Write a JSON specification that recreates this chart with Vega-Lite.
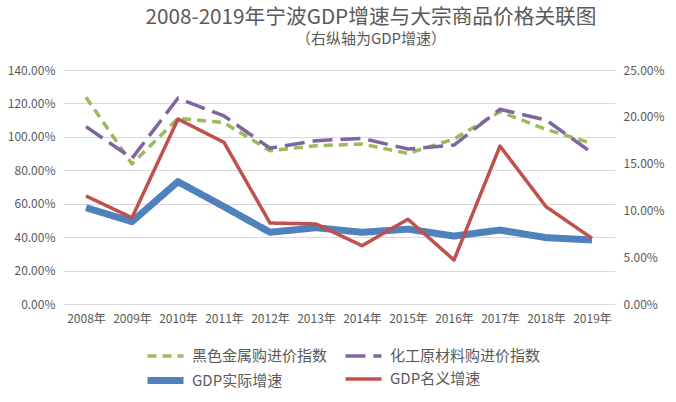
{
  "$schema": "https://vega.github.io/schema/vega-lite/v6.json",
  "width": 552,
  "height": 234,
  "autosize": "none",
  "padding": {"left": 63, "top": 70, "right": 61, "bottom": 98},
  "background": "white",
  "config": {
    "view": {"stroke": null},
    "font": "Noto Sans CJK SC",
    "axis": {"labelFont": "Noto Sans CJK SC", "labelColor": "#595959", "labelFontSize": 12},
    "legend": {"labelFont": "Noto Sans CJK SC", "labelColor": "#595959", "labelFontSize": 15}
  },
  "title": {
    "text": "2008-2019年宁波GDP增速与大宗商品价格关联图",
    "subtitle": "（右纵轴为GDP增速）",
    "font": "Noto Sans CJK SC",
    "subtitleFont": "Noto Sans CJK SC",
    "fontSize": 20.7,
    "fontWeight": "normal",
    "subtitleFontSize": 15,
    "color": "#595959",
    "subtitleColor": "#595959",
    "anchor": "middle",
    "frame": "group",
    "dx": 32,
    "offset": 16,
    "subtitlePadding": 3.5
  },
  "data": {
    "values": [
      {"year": "2008年", "series": "黑色金属购进价指数", "value": 1.237},
      {"year": "2009年", "series": "黑色金属购进价指数", "value": 0.838},
      {"year": "2010年", "series": "黑色金属购进价指数", "value": 1.111},
      {"year": "2011年", "series": "黑色金属购进价指数", "value": 1.085},
      {"year": "2012年", "series": "黑色金属购进价指数", "value": 0.917},
      {"year": "2013年", "series": "黑色金属购进价指数", "value": 0.947},
      {"year": "2014年", "series": "黑色金属购进价指数", "value": 0.957},
      {"year": "2015年", "series": "黑色金属购进价指数", "value": 0.901},
      {"year": "2016年", "series": "黑色金属购进价指数", "value": 0.987},
      {"year": "2017年", "series": "黑色金属购进价指数", "value": 1.151},
      {"year": "2018年", "series": "黑色金属购进价指数", "value": 1.045},
      {"year": "2019年", "series": "黑色金属购进价指数", "value": 0.961},
      {"year": "2008年", "series": "化工原材料购进价指数", "value": 1.061},
      {"year": "2009年", "series": "化工原材料购进价指数", "value": 0.872},
      {"year": "2010年", "series": "化工原材料购进价指数", "value": 1.231},
      {"year": "2011年", "series": "化工原材料购进价指数", "value": 1.125},
      {"year": "2012年", "series": "化工原材料购进价指数", "value": 0.932},
      {"year": "2013年", "series": "化工原材料购进价指数", "value": 0.977},
      {"year": "2014年", "series": "化工原材料购进价指数", "value": 0.991},
      {"year": "2015年", "series": "化工原材料购进价指数", "value": 0.927},
      {"year": "2016年", "series": "化工原材料购进价指数", "value": 0.951},
      {"year": "2017年", "series": "化工原材料购进价指数", "value": 1.165},
      {"year": "2018年", "series": "化工原材料购进价指数", "value": 1.101},
      {"year": "2019年", "series": "化工原材料购进价指数", "value": 0.905},
      {"year": "2008年", "series": "GDP实际增速", "value": 0.1029},
      {"year": "2009年", "series": "GDP实际增速", "value": 0.088},
      {"year": "2010年", "series": "GDP实际增速", "value": 0.1307},
      {"year": "2011年", "series": "GDP实际增速", "value": 0.104},
      {"year": "2012年", "series": "GDP实际增速", "value": 0.0766},
      {"year": "2013年", "series": "GDP实际增速", "value": 0.0815},
      {"year": "2014年", "series": "GDP实际增速", "value": 0.0766},
      {"year": "2015年", "series": "GDP实际增速", "value": 0.080},
      {"year": "2016年", "series": "GDP实际增速", "value": 0.0726},
      {"year": "2017年", "series": "GDP实际增速", "value": 0.079},
      {"year": "2018年", "series": "GDP实际增速", "value": 0.0709},
      {"year": "2019年", "series": "GDP实际增速", "value": 0.0684},
      {"year": "2008年", "series": "GDP名义增速", "value": 0.1154},
      {"year": "2009年", "series": "GDP名义增速", "value": 0.0922},
      {"year": "2010年", "series": "GDP名义增速", "value": 0.1976},
      {"year": "2011年", "series": "GDP名义增速", "value": 0.1727},
      {"year": "2012年", "series": "GDP名义增速", "value": 0.0865},
      {"year": "2013年", "series": "GDP名义增速", "value": 0.0855},
      {"year": "2014年", "series": "GDP名义增速", "value": 0.0623},
      {"year": "2015年", "series": "GDP名义增速", "value": 0.0905},
      {"year": "2016年", "series": "GDP名义增速", "value": 0.047},
      {"year": "2017年", "series": "GDP名义增速", "value": 0.1688},
      {"year": "2018年", "series": "GDP名义增速", "value": 0.104},
      {"year": "2019年", "series": "GDP名义增速", "value": 0.0702}
    ]
  },
  "encoding": {
    "x": {
      "field": "year",
      "type": "nominal",
      "sort": null,
      "title": null,
      "axis": {"labelAngle": 0, "domain": false, "ticks": false, "grid": false, "labelPadding": 9}
    },
    "color": {
      "field": "series",
      "type": "nominal",
      "title": null,
      "scale": {
        "domain": ["黑色金属购进价指数", "化工原材料购进价指数", "GDP实际增速", "GDP名义增速"],
        "range": ["#9BBB59", "#8064A2", "#4F81BD", "#C0504D"]
      },
      "legend": {
        "orient": "none",
        "legendX": 93,
        "legendY": 278,
        "columns": 2,
        "direction": "horizontal",
        "symbolType": "M-3,0H3",
        "symbolSize": 144,
        "columnPadding": 10,
        "rowPadding": 2,
        "labelOffset": 17,
        "padding": 0
      }
    },
    "strokeDash": {
      "field": "series",
      "type": "nominal",
      "title": null,
      "scale": {
        "domain": ["黑色金属购进价指数", "化工原材料购进价指数", "GDP实际增速", "GDP名义增速"],
        "range": [[9, 6], [20, 8], [1, 0], [1, 0]]
      }
    },
    "strokeWidth": {
      "field": "series",
      "type": "nominal",
      "title": null,
      "scale": {
        "type": "ordinal",
        "domain": ["黑色金属购进价指数", "化工原材料购进价指数", "GDP实际增速", "GDP名义增速"],
        "range": [3.5, 3.5, 7, 3.5]
      }
    }
  },
  "layer": [
    {
      "transform": [{"filter": "datum.series === '黑色金属购进价指数' || datum.series === '化工原材料购进价指数'"}],
      "mark": {"type": "line", "strokeJoin": "round", "strokeCap": "butt"},
      "encoding": {
        "y": {
          "field": "value",
          "type": "quantitative",
          "title": null,
          "scale": {"domain": [0, 1.4], "nice": false},
          "axis": {
            "values": [0, 0.2, 0.4, 0.6, 0.8, 1.0, 1.2, 1.4],
            "format": ".2%",
            "domain": false,
            "ticks": false,
            "gridColor": "#D9D9D9",
            "gridWidth": 1,
            "labelPadding": 8
          }
        }
      }
    },
    {
      "transform": [{"filter": "datum.series === 'GDP实际增速' || datum.series === 'GDP名义增速'"}],
      "mark": {"type": "line", "strokeJoin": "round", "strokeCap": "butt"},
      "encoding": {
        "y": {
          "field": "value",
          "type": "quantitative",
          "title": null,
          "scale": {"domain": [0, 0.25], "nice": false},
          "axis": {
            "orient": "right",
            "values": [0, 0.05, 0.1, 0.15, 0.2, 0.25],
            "format": ".2%",
            "domain": false,
            "ticks": false,
            "grid": false,
            "labelPadding": 8
          }
        }
      }
    }
  ],
  "resolve": {"scale": {"y": "independent"}}
}
